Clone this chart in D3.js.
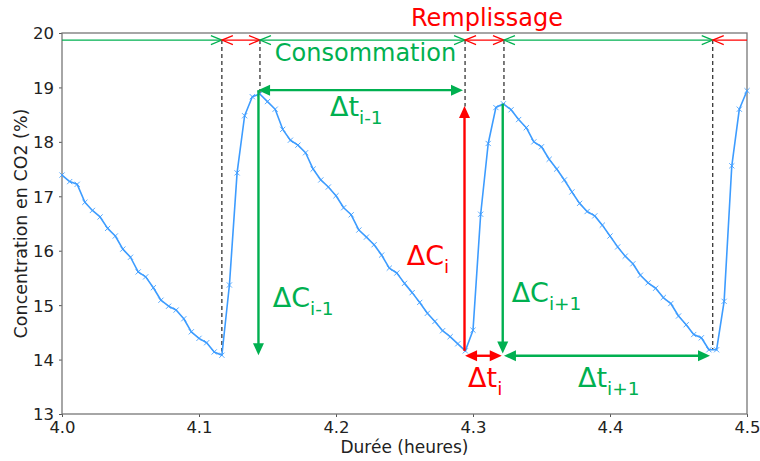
<!DOCTYPE html>
<html><head><meta charset="utf-8">
<script src="https://cdn.jsdelivr.net/npm/d3@7"></script>
<style>
html,body{margin:0;padding:0;background:#fff;}
svg{display:block;font-family:"DejaVu Sans",sans-serif;}
</style></head>
<body>
<svg id="chart" width="760" height="461"></svg>
<script>
// ---- data ----
const times = [4.0000,4.0056,4.0111,4.0167,4.0222,4.0278,4.0333,4.0389,4.0444,4.0500,
4.0556,4.0611,4.0667,4.0722,4.0778,4.0833,4.0889,4.0944,4.1000,4.1056,
4.1111,4.1167,4.1222,4.1278,4.1333,4.1389,4.1444,4.1500,4.1556,4.1611,
4.1667,4.1722,4.1778,4.1833,4.1889,4.1944,4.2000,4.2056,4.2111,4.2167,
4.2222,4.2278,4.2333,4.2389,4.2444,4.2500,4.2556,4.2611,4.2667,4.2722,
4.2778,4.2833,4.2889,4.2944,4.3000,4.3056,4.3111,4.3167,4.3222,4.3278,
4.3333,4.3389,4.3444,4.3500,4.3556,4.3611,4.3667,4.3722,4.3778,4.3833,
4.3889,4.3944,4.4000,4.4056,4.4111,4.4167,4.4222,4.4278,4.4333,4.4389,
4.4444,4.4500,4.4556,4.4611,4.4667,4.4722,4.4778,4.4833,4.4889,4.4944,4.5000];
const co2 = [17.39,17.27,17.22,16.89,16.74,16.62,16.41,16.27,16.03,15.88,
15.61,15.52,15.32,15.09,14.98,14.91,14.75,14.51,14.39,14.31,
14.14,14.08,15.37,17.43,18.48,18.83,18.88,18.74,18.60,18.23,
18.03,17.94,17.80,17.50,17.30,17.17,17.01,16.79,16.66,16.38,
16.25,16.11,15.92,15.68,15.59,15.40,15.23,15.05,14.85,14.70,
14.53,14.42,14.29,14.16,14.54,16.67,17.97,18.63,18.70,18.59,
18.41,18.26,18.00,17.91,17.68,17.50,17.30,17.08,16.87,16.72,
16.64,16.47,16.27,16.07,15.90,15.76,15.55,15.41,15.31,15.14,
15.03,14.80,14.64,14.46,14.40,14.18,14.18,15.07,17.56,18.60,18.94];

const xTicks = [4.0,4.1,4.2,4.3,4.4,4.5];
const xTickLabels = ["4.0","4.1","4.2","4.3","4.4","4.5"];
const yTicks = [13,14,15,16,17,18,19,20];
const yTickLabels = ["13","14","15","16","17","18","19","20"];

// phase boundaries (heures) and phase kinds between them
const phaseBounds = [4.1167,4.1445,4.2942,4.3226,4.4750];
const phaseKinds = ["c","r","c","r","c","r"]; // c = consommation, r = remplissage
const dashEnds = [14.15,18.88,18.65,18.70,14.18];
const phaseLevel = 19.87;

// big annotation arrows
const arrowX1 = [4.1431,4.1434,4.2938,4.3217,4.2942,4.3226];
const arrowY1 = [18.95,18.95,14.16,18.70,14.07,14.07];
const arrowX2 = [4.2927,4.1434,4.2938,4.3217,4.3210,4.4730];
const arrowY2 = [18.95,14.08,18.66,14.11,14.07,14.07];
const arrowKind = ["c","c","r","c","r","c"];
const arrowStart = [true,false,false,false,true,true];
const arrowEnd = [true,true,true,true,true,true];

// delta labels
const labelMain = ["Δt","ΔC","ΔC","ΔC","Δt","Δt"];
const labelSub = ["i-1","i-1","i","i+1","i","i+1"];
const labelX = [4.1956,4.1538,4.2516,4.3282,4.2964,4.3766];
const labelY = [18.47,14.97,15.74,15.05,13.50,13.50];
const labelKind = ["c","c","r","c","r","c"];

const titleTexts = ["Remplissage","Consommation"];
const titleX = [4.3102,4.2215];
const titleY = [20.134,19.486];
const titleKind = ["r","c"];

// ---- drawing ----
const GREEN = "#00b050", RED = "#ff0000", LINE = "#3d9cff", AX = "#555";
const col = k => k === "c" ? GREEN : RED;
const svg = d3.select("#chart");
const L = 62, R = 747, T = 33, B = 414;
const x = d3.scaleLinear().domain([4.0,4.5]).range([L,R]);
const y = d3.scaleLinear().domain([13,20]).range([B,T]);

// axes
const xAxis = d3.axisBottom(x).tickValues(xTicks).tickFormat((d,i)=>xTickLabels[i]).tickSize(3).tickPadding(3).tickSizeOuter(0);
const yAxis = d3.axisLeft(y).tickValues(yTicks).tickFormat((d,i)=>yTickLabels[i]).tickSize(3).tickPadding(5).tickSizeOuter(0);
const gx = svg.append("g").attr("transform",`translate(0,${B})`).call(xAxis);
const gy = svg.append("g").attr("transform",`translate(${L},0)`).call(yAxis);
[gx,gy].forEach(g=>{
  g.select(".domain").remove();
  g.selectAll(".tick line").attr("stroke",AX).attr("stroke-width",1);
  g.selectAll(".tick text").attr("fill","#222").style("font-size","16.5px").style("font-family","DejaVu Sans");
});
gx.selectAll(".tick text").attr("dy","0.76em");
gy.selectAll(".tick text").attr("dy","0.36em");

// frame
svg.append("rect").attr("x",L).attr("y",T).attr("width",R-L).attr("height",B-T)
  .attr("fill","none").attr("stroke","#777").attr("stroke-width",1.3);

// axis labels
svg.append("text").attr("x",(L+R)/2).attr("y",453).attr("text-anchor","middle")
  .style("font-size","17px").attr("fill","#222").text("Durée (heures)");
svg.append("text").attr("transform",`translate(27,${(T+B)/2}) rotate(-90)`).attr("text-anchor","middle")
  .style("font-size","17.5px").attr("fill","#222").text("Concentration en CO2 (%)");

// dashed phase boundaries
const bounds = [4.0, ...phaseBounds, 4.5];
svg.append("g").selectAll("line").data(phaseBounds).join("line")
  .attr("x1",d=>x(d)).attr("x2",d=>x(d))
  .attr("y1",y(phaseLevel)).attr("y2",(d,i)=>y(dashEnds[i]))
  .attr("stroke","#111").attr("stroke-width",1.1).attr("stroke-dasharray","4,3");

// thin phase arrows at top
const gTop = svg.append("g");
function openHead(g, tx, ty, dir, c){
  g.append("path").attr("d",`M${tx-dir*11},${ty-4.5}L${tx},${ty}L${tx-dir*11},${ty+4.5}`)
   .attr("fill","none").attr("stroke",c).attr("stroke-width",1.2);
}
phaseKinds.forEach((k,i)=>{
  const a = bounds[i], b = bounds[i+1];
  const c = col(k), yy = y(phaseLevel);
  const xa = x(a), xb = Math.min(x(b), R);
  gTop.append("line").attr("x1",xa).attr("x2",xb).attr("y1",yy).attr("y2",yy)
    .attr("stroke",c).attr("stroke-width",1.2);
  if (i>0) openHead(gTop, xa, yy, -1, c);
  if (i<phaseKinds.length-1) openHead(gTop, xb, yy, 1, c);
});

// data line
const pts = times.map((t,i)=>[t,co2[i]]);
svg.append("path").datum(pts)
  .attr("d",d3.line().x(d=>x(d[0])).y(d=>y(d[1])))
  .attr("fill","none").attr("stroke",LINE).attr("stroke-width",1.6).attr("stroke-linejoin","round");
svg.append("g").selectAll("path").data(pts).join("path")
  .attr("d",d=>{const px=x(d[0]),py=y(d[1]),s=2.6;return `M${px-s},${py-s}L${px+s},${py+s}M${px-s},${py+s}L${px+s},${py-s}`;})
  .attr("stroke",LINE).attr("stroke-width",1).attr("fill","none").attr("opacity",0.85);

// big arrows
const gA = svg.append("g");
function fillHead(g, tx, ty, ux, uy, c){
  const len=12, hw=5.5, bx=tx-ux*len, by=ty-uy*len, px=-uy, py=ux;
  g.append("path").attr("d",`M${tx},${ty}L${bx+px*hw},${by+py*hw}L${bx-px*hw},${by-py*hw}Z`).attr("fill",c);
}
arrowX1.forEach((_,i)=>{
  const x1=x(arrowX1[i]), y1=y(arrowY1[i]), x2=x(arrowX2[i]), y2=y(arrowY2[i]);
  const c=col(arrowKind[i]);
  const dx=x2-x1, dy=y2-y1, n=Math.hypot(dx,dy), ux=dx/n, uy=dy/n;
  const sx = arrowStart[i] ? x1+ux*10 : x1, sy = arrowStart[i] ? y1+uy*10 : y1;
  const ex = arrowEnd[i] ? x2-ux*10 : x2, ey = arrowEnd[i] ? y2-uy*10 : y2;
  gA.append("line").attr("x1",sx).attr("y1",sy).attr("x2",ex).attr("y2",ey)
    .attr("stroke",c).attr("stroke-width",2.4);
  if (arrowEnd[i]) fillHead(gA,x2,y2,ux,uy,c);
  if (arrowStart[i]) fillHead(gA,x1,y1,-ux,-uy,c);
});

// delta labels
labelMain.forEach((m,i)=>{
  const t = svg.append("text").attr("x",x(labelX[i])).attr("y",y(labelY[i]))
    .attr("fill",col(labelKind[i])).style("font-size","27px");
  t.append("tspan").text(m);
  t.append("tspan").attr("dy",8).style("font-size","18.5px").text(labelSub[i]);
});

// titles
titleTexts.forEach((s,i)=>{
  svg.append("text").attr("x",x(titleX[i])).attr("y",y(titleY[i])).attr("text-anchor","middle")
    .attr("fill",col(titleKind[i])).style("font-size","24px").text(s);
});
</script>
</body></html>
